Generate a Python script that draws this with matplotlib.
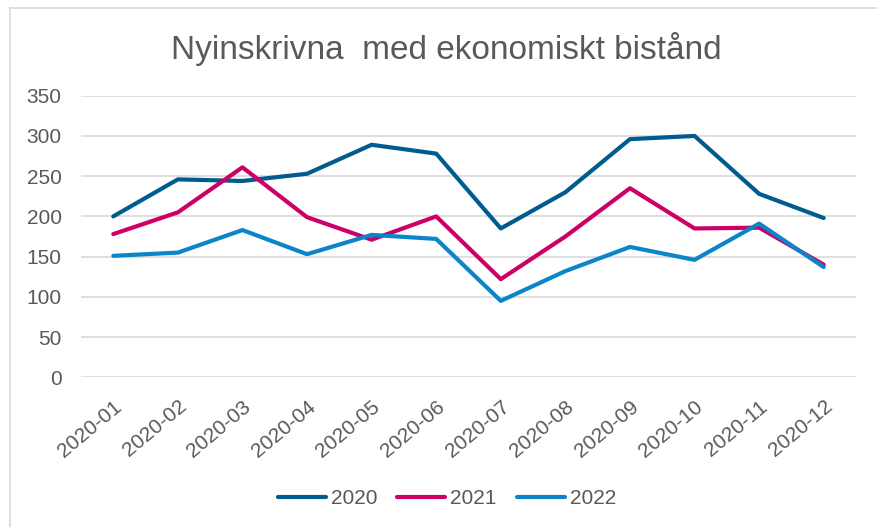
import matplotlib
matplotlib.use("Agg")
import matplotlib.pyplot as plt
from matplotlib.lines import Line2D

plt.rcParams['font.family'] = ['Liberation Sans', 'DejaVu Sans']

months = ["2020-01", "2020-02", "2020-03", "2020-04", "2020-05", "2020-06",
          "2020-07", "2020-08", "2020-09", "2020-10", "2020-11", "2020-12"]
s2020 = [200, 246, 244, 253, 289, 278, 185, 230, 296, 300, 228, 198]
s2021 = [178, 205, 261, 199, 171, 200, 122, 175, 235, 185, 186, 140]
s2022 = [151, 155, 183, 153, 177, 172, 95, 132, 162, 146, 191, 137]
series_names = ["2020", "2021", "2022"]
colors = ["#005C8F", "#CC0066", "#0A85CA"]
yticks = [0, 50, 100, 150, 200, 250, 300, 350]
title = "Nyinskrivna  med ekonomiskt bistånd"

text_color = "#595959"
fig = plt.figure(figsize=(8.78, 5.27), dpi=100)
ax = fig.add_axes([81/878, 1-377.3/527, (856-81)/878, (377.3-95.7)/527])

x = list(range(len(months)))
for name, vals, c in zip(series_names, [s2020, s2021, s2022], colors):
    ax.plot(x, vals, color=c, lw=3.0, label=name, solid_capstyle='round', solid_joinstyle='round')

ax.set_xlim(-0.5, len(months) - 0.5)
ax.set_ylim(0, 350)
ax.set_yticks(yticks)
ax.set_yticklabels([str(v) for v in yticks])
ax.set_xticks(x)
ax.set_xticklabels(months, rotation=40, ha='right', va='top', rotation_mode='anchor')
ax.grid(axis='y', color='#D9D9D9', lw=1.2)
ax.set_axisbelow(True)
for s in ax.spines.values():
    s.set_visible(False)
ax.tick_params(axis='both', length=0, labelsize=15, labelcolor=text_color)
ax.tick_params(axis='y', pad=14)
ax.tick_params(axis='x', pad=14)

fig.text(446/878, 1-59.3/527, title, ha='center', va='baseline', fontsize=24, color=text_color)

handles, labels = ax.get_legend_handles_labels()
fig.legend(handles, labels, loc='center', bbox_to_anchor=(447/878, 1-499/527), ncol=3,
           frameon=False, fontsize=15, handlelength=2.3, handletextpad=0.25,
           columnspacing=0.95, labelcolor=text_color)

fig.add_artist(Line2D([10.5/878, 1.0], [1-8/527, 1-8/527], color='#D9D9D9', lw=1.2, transform=fig.transFigure))
fig.add_artist(Line2D([10.5/878, 10.5/878], [0, 1-8/527], color='#D9D9D9', lw=1.2, transform=fig.transFigure))

fig.savefig("out.png", dpi=100)
